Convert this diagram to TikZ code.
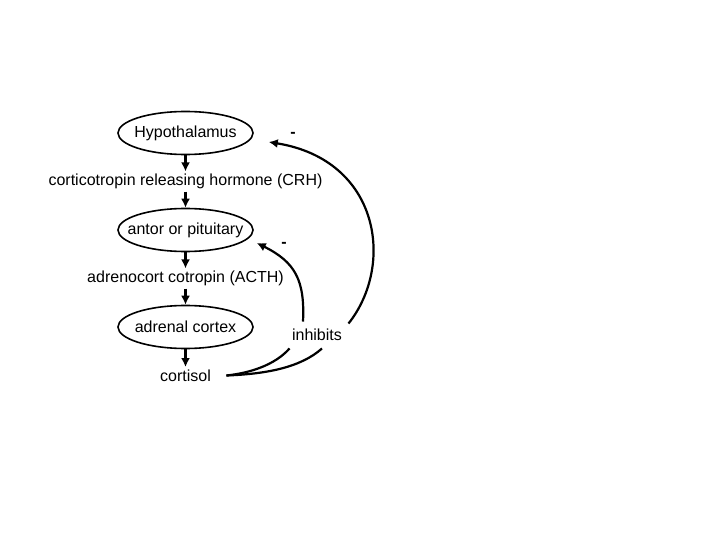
\documentclass[tikz,border=0pt]{standalone}
\usepackage{fontspec}
\setmainfont{Liberation Sans}
\usetikzlibrary{arrows.meta,shapes.geometric}

\begin{document}
\begin{tikzpicture}[->,>={Latex[length=9pt,width=9pt]},x=1pt,y=-1pt,
        node distance=48.5pt,line width=2.2pt,font=\fontsize{16}{19}\selectfont,
        organ/.style={ellipse,draw,line width=1.6pt,minimum width=135pt,
          minimum height=43pt,inner xsep=-15pt,inner ysep=0pt},
        hormone/.style={inner sep=1.5pt}]

  \useasboundingbox (0,0) rectangle (720,540);

  \node[organ] (hypo) at (185.5,133) {Hypothalamus};
  \node[hormone] (crh) [below of=hypo] {corticotropin releasing hormone (CRH)};
  \node[organ] (antor) [below of=crh] {antor or pituitary};
  \node[hormone] (acth) [below of=antor] {adrenocort cotropin (ACTH)};
  \node[organ] (adrenal) [below of=acth] {adrenal cortex};
  \node[hormone] (cort) [below of=adrenal] {cortisol};
  \node[hormone] (inh) at (317,335) {inhibits};
  \node (minus_1) at (293,135) {\textbf{-}};
  \node (minus_2) at (284,245) {\textbf{-}};

  \draw (hypo) -- (crh);
  \draw (crh) -- (antor);
  \draw (antor) -- (acth);
  \draw (acth) -- (adrenal);
  \draw (adrenal) -- (cort);

  \draw[-] ([xshift=13pt]cort.east) .. controls (250,373) and (275,365)
        .. ([yshift=-5pt]inh.south west);
  \draw[-] ([xshift=13pt]cort.east) .. controls (265,374) and (300,368)
        .. ([shift={(5pt,-5pt)}]inh.south);
  \draw ([shift={(-14pt,5pt)}]inh.north) .. controls (305,280) and (295,262)
        .. ([shift={(3pt,-13pt)}]antor.east);
  \draw ([shift={(4pt,3pt)}]inh.north east) .. controls (395,265) and (380,160)
        .. ([shift={(15pt,-9pt)}]hypo.east);

\end{tikzpicture}
\end{document}
